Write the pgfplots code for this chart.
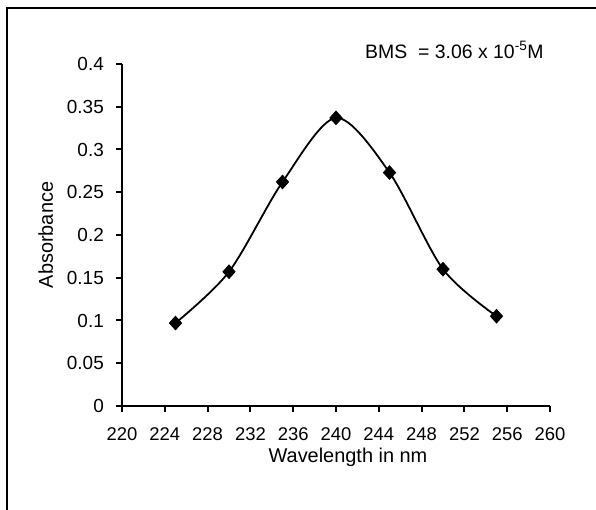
\documentclass[border=0pt]{standalone}
\usepackage{fontspec}
\setmainfont{Liberation Sans}
\usepackage{pgfplots}
\pgfplotsset{compat=1.18}
\begin{document}
\begin{tikzpicture}[x=1bp,y=1bp]
\useasboundingbox (0,0) rectangle (596,510);
\draw[line width=1.8bp] (7,0) -- (7,502) -- (596,502);
\begin{axis}[
  at={(122bp,104bp)}, anchor=south west,
  scale only axis, width=428bp, height=342bp,
  xmin=220, xmax=260, ymin=0, ymax=0.4,
  xtick={220,224,...,260},
  ytick={0,0.05,...,0.4},
  axis lines=left,
  axis line style={line width=2bp, -},
  tick align=outside,
  major tick length=6bp,
  tick style={line width=2bp, black},
  /pgf/number format/assume math mode=true,
  font=\fontsize{20}{23}\selectfont,
  yticklabel style={/pgf/number format/fixed, /pgf/number format/precision=2, anchor=east, inner sep=0pt, xshift=-12bp, font=\fontsize{19}{22}\selectfont},
  xticklabel style={anchor=base, inner sep=0pt, yshift=-29bp, font=\fontsize{18.5}{22}\selectfont},
  xlabel={Wavelength in nm},
  ylabel={Absorbance},
  xlabel style={at={(axis description cs:0.528,-0.149)}, anchor=center},
  ylabel style={at={(axis description cs:-0.178,0.5)}, anchor=center},
  clip=false,
]
\addplot[black, line width=1.8bp, smooth, mark=diamond*, mark size=6.8bp, mark options={xscale=1.2, fill=black, line width=0.8bp}]
coordinates {
(225,0.097) (230,0.157) (235,0.262) (240,0.337) (245,0.273) (250,0.160) (255,0.105)
};
\end{axis}
\node[anchor=west, inner sep=0pt, font=\fontsize{19.5}{22}\selectfont] at (365,460) {BMS\ \ = 3.06 x 10\textsuperscript{-5}M};
\end{tikzpicture}
\end{document}
